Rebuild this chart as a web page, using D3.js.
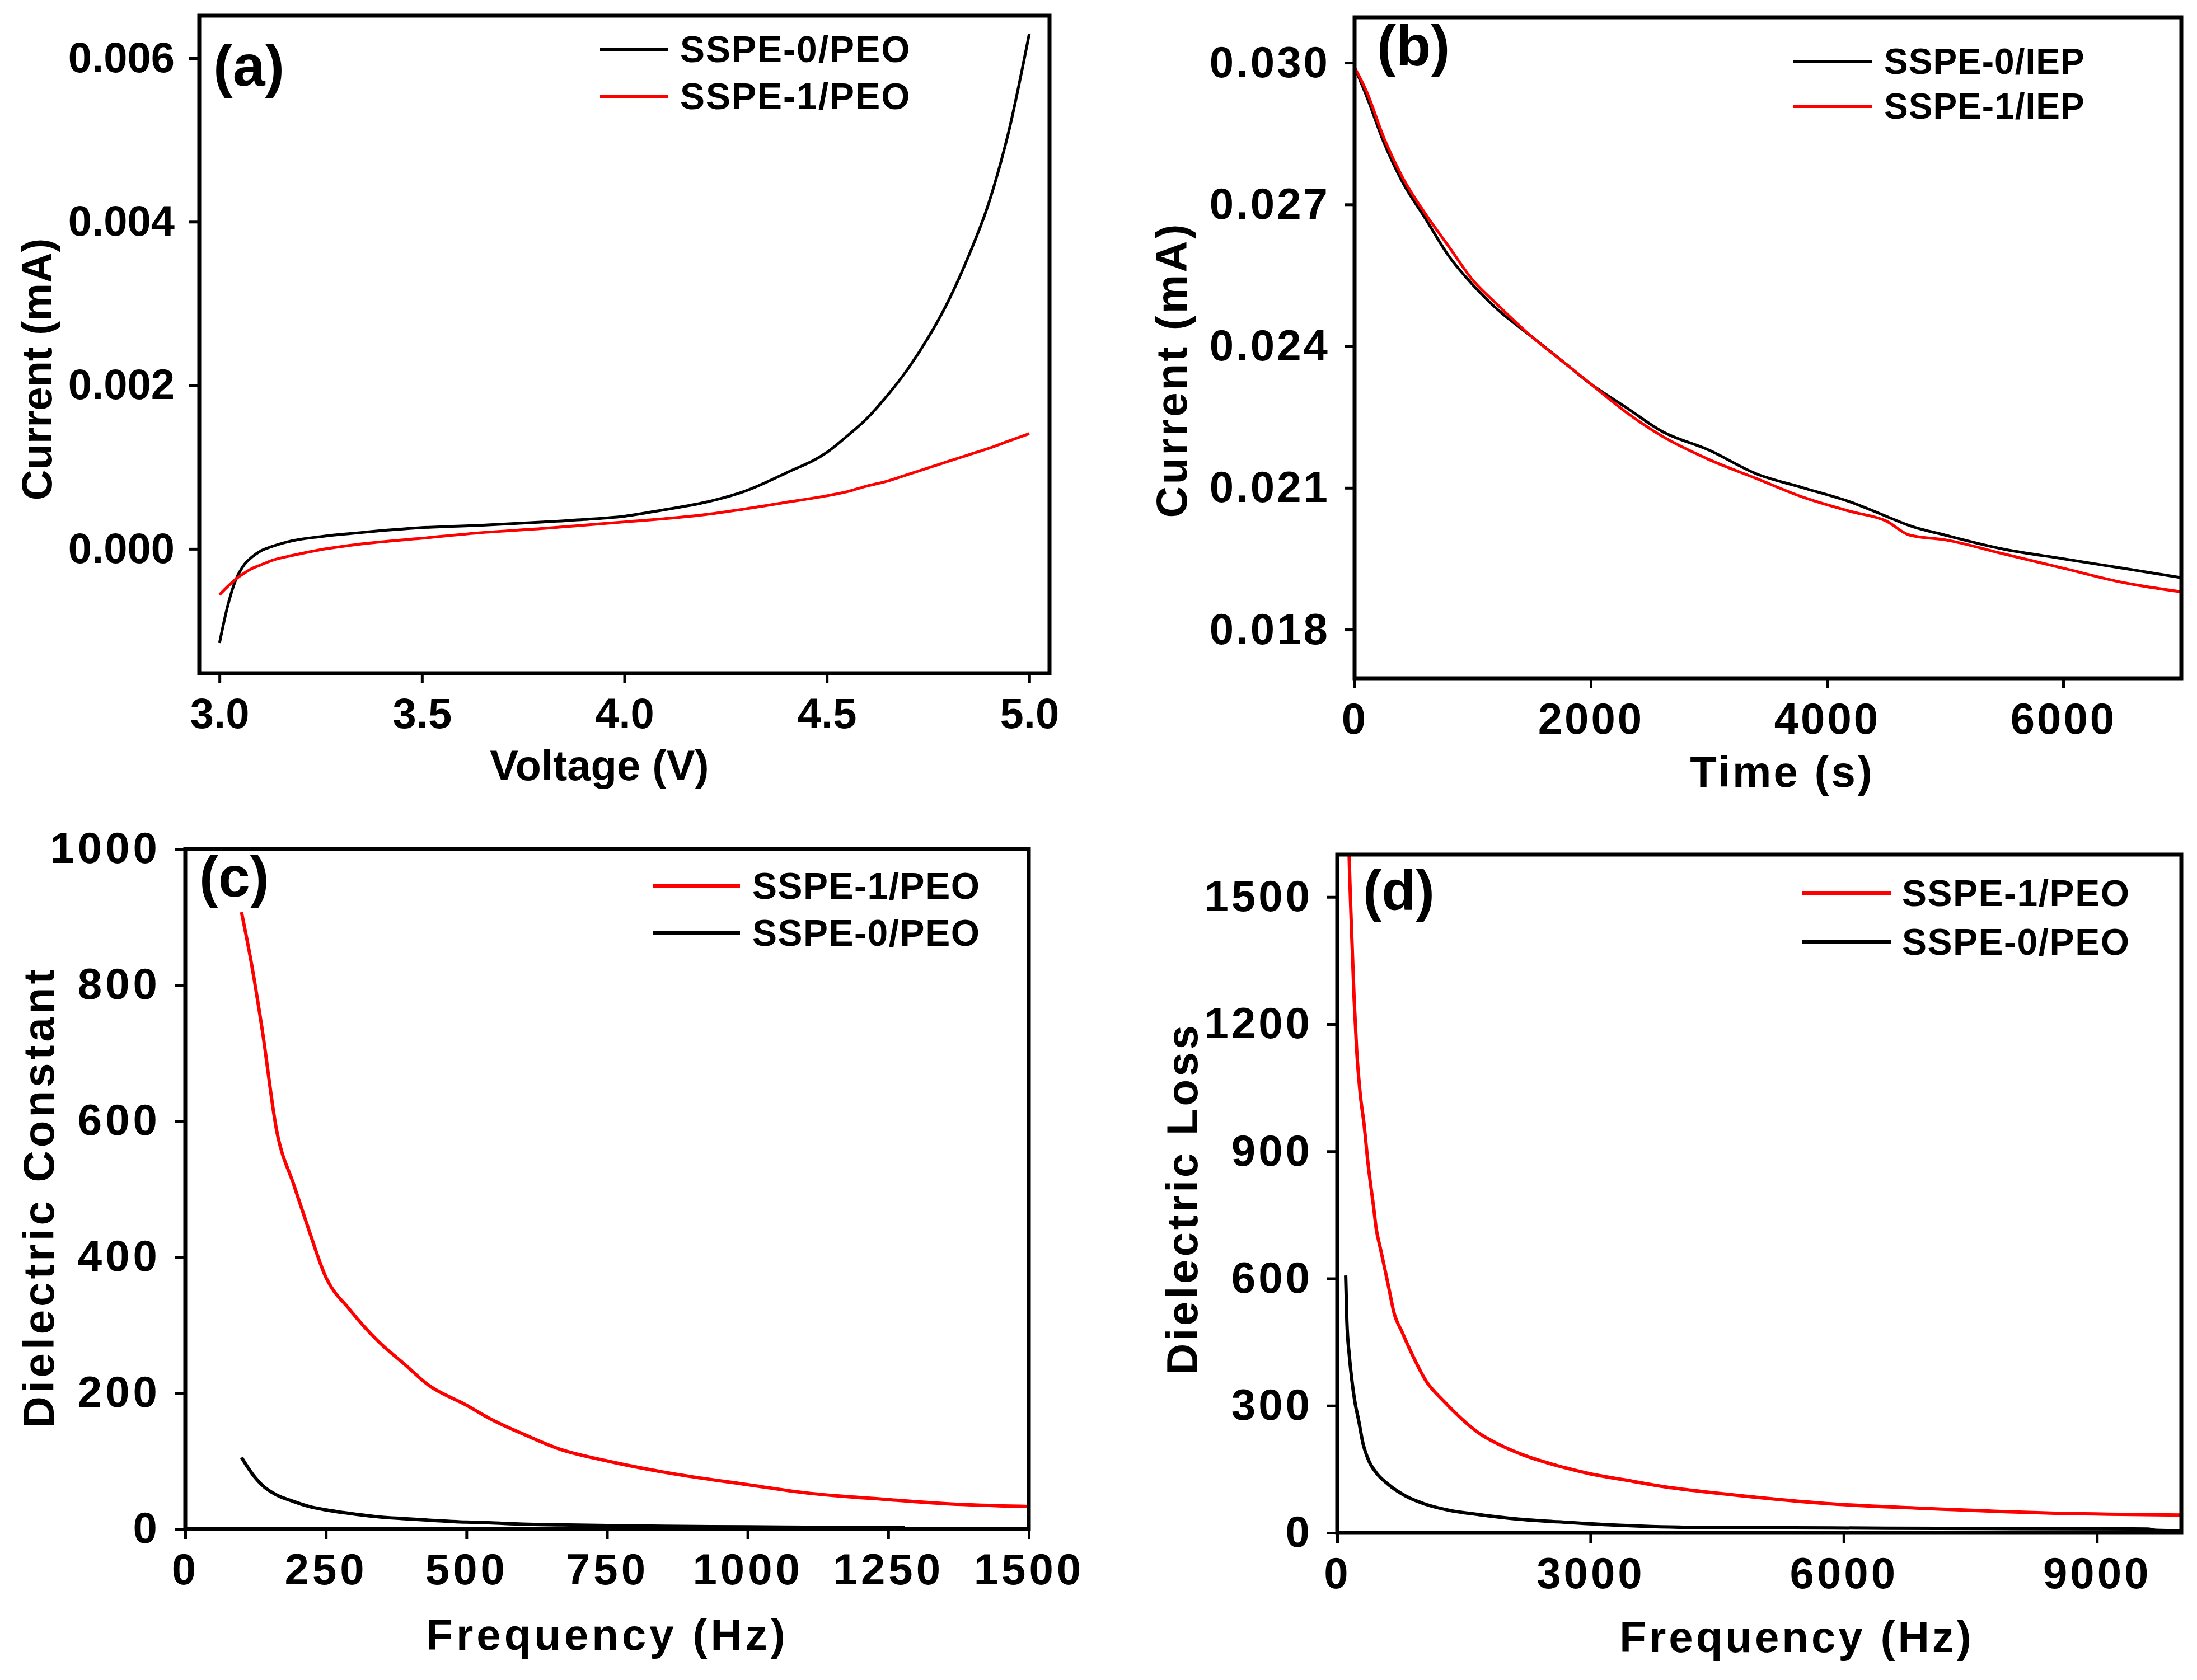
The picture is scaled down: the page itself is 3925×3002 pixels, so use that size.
<!DOCTYPE html>
<html>
<head>
<meta charset="utf-8">
<script src="https://cdn.jsdelivr.net/npm/d3@7"></script>
<style>
  body { margin: 0; background: #fff; }
  svg { display: block; }
  text { font-family: "Liberation Sans", Arial, sans-serif; font-weight: bold; fill: #000; }
</style>
</head>
<body>
<svg id="fig" width="3925" height="3002"></svg>
<script>
// ---- (a) linear sweep, current vs voltage
var voltageA = [3.00, 3.02, 3.04, 3.06, 3.08, 3.10, 3.13, 3.18, 3.25, 3.35, 3.50, 3.65, 3.80, 3.90, 4.00,
                4.10, 4.20, 4.30, 4.40, 4.50, 4.55, 4.60, 4.65, 4.70, 4.75, 4.80, 4.85, 4.90, 4.95, 5.00];
var currentA0 = [-0.00115, -0.0007, -0.00038, -0.0002, -0.0001, -0.00003, 0.00003, 0.0001, 0.00015, 0.0002,
                 0.00026, 0.00029, 0.00033, 0.00036, 0.0004, 0.00048, 0.00057, 0.00071, 0.00093, 0.00118,
                 0.00138, 0.0016, 0.00188, 0.0022, 0.00258, 0.00303, 0.00358, 0.00423, 0.00512, 0.0063];
var currentA1 = [-0.00056, -0.00046, -0.00037, -0.0003, -0.00024, -0.0002, -0.00014, -0.00008, -0.00001, 0.00006,
                 0.00013, 0.0002, 0.00025, 0.00029, 0.00033, 0.00037, 0.00042, 0.00049, 0.00057, 0.00065,
                 0.0007, 0.00077, 0.00083, 0.00091, 0.00099, 0.00107, 0.00115, 0.00123, 0.00132, 0.00141];
var ticksAX = [3.0, 3.5, 4.0, 4.5, 5.0];
var ticksAY = [0, 0.002, 0.004, 0.006];

// ---- (b) chronoamperometry, current vs time
var timeB = [0, 100, 250, 400, 600, 800, 1000, 1200, 1500, 1800, 2000, 2300, 2600, 3000, 3400, 3800,
             4200, 4500, 4700, 5000, 5500, 6000, 6500, 7000];
var currentB0 = [0.0299, 0.0293, 0.0283, 0.0275, 0.0267, 0.0259, 0.0253, 0.0248, 0.0242, 0.0236, 0.0232, 0.0227,
                 0.0222, 0.0218, 0.0213, 0.0210, 0.0207, 0.0204, 0.0202, 0.0200, 0.0197, 0.0195, 0.0193, 0.0191];
var currentB1 = [0.0299, 0.0294, 0.0284, 0.0276, 0.0268, 0.0261, 0.0254, 0.0249, 0.0242, 0.0236, 0.0232, 0.0226,
                 0.0221, 0.0216, 0.0212, 0.0208, 0.0205, 0.0203, 0.0200, 0.0199, 0.0196, 0.0193, 0.0190, 0.0188];
var ticksBX = [0, 2000, 4000, 6000];
var ticksBY = [0.018, 0.021, 0.024, 0.027, 0.030];

// ---- (c) dielectric constant vs frequency
var freqC1 = [100, 118, 137, 162, 193, 218, 249, 293, 343, 393, 430, 500, 542, 605, 667, 750, 854, 1000, 1104, 1251, 1353, 1500];
var constC1 = [907, 830, 733, 588, 506, 444, 372, 322, 276, 240, 213, 182, 162, 138, 117, 100, 83, 65, 53, 43, 37, 33];
var freqC0 = [100, 120, 140, 160, 190, 220, 250, 290, 340, 390, 430, 500, 540, 600, 670, 750, 850, 1000, 1100, 1280];
var constC0 = [105, 80, 62, 51, 41, 33, 28, 23, 18, 15, 13, 10, 9, 7, 6, 5, 4, 3, 2.5, 2];
var ticksCX = [0, 250, 500, 750, 1000, 1250, 1500];
var ticksCY = [0, 200, 400, 600, 800, 1000];

// ---- (d) dielectric loss vs frequency
var freqD1 = [100, 141, 170, 200, 230, 270, 320, 360, 390, 430, 460, 510, 570, 620, 670, 770, 880, 1050, 1260,
              1430, 1680, 1890, 2200, 2580, 3000, 3400, 3900, 4300, 4800, 5800, 6900, 8400, 10000];
var lossD1 = [2050, 1600, 1420, 1260, 1140, 1040, 960, 880, 830, 770, 720, 672, 617, 569, 521, 473, 424, 359, 311,
              277, 235, 211, 184, 160, 139, 125, 108, 98, 87, 69, 58, 47, 42];
var freqD0 = [100, 114, 142, 176, 211, 253, 305, 374, 461, 600, 809, 1052, 1330, 1678, 2164, 2616, 3207, 4145,
              5389, 6500, 8000, 9600, 9700, 10000];
var lossD0 = [607, 500, 421, 356, 307, 266, 211, 170, 142, 115, 87, 67, 53, 43, 32, 26, 19, 13, 12, 11, 10, 9, 6, 5];
var ticksDX = [0, 3000, 6000, 9000];
var ticksDY = [0, 300, 600, 900, 1200, 1500];

var svg = d3.select("#fig");
var RED = "#ff0000";

function panel(o) {
    var x = d3.scaleLinear().domain(o.xDomain).range([o.left, o.right]);
    var y = d3.scaleLinear().domain(o.yDomain).range([o.bottom, o.top]);
    var g = svg.append("g");

    g.append("clipPath").attr("id", "clip-" + o.id)
        .append("rect")
        .attr("x", o.left).attr("y", o.top)
        .attr("width", o.right - o.left).attr("height", o.bottom - o.top);

    var line = d3.line()
        .curve(d3.curveMonotoneX)
        .x(function(d) { return x(d[0]); })
        .y(function(d) { return y(d[1]); });

    o.series.forEach(function(s) {
        g.append("path")
            .datum(d3.zip(s.x, s.y))
            .attr("clip-path", "url(#clip-" + o.id + ")")
            .attr("fill", "none")
            .attr("stroke", s.color)
            .attr("stroke-width", o.lineWidth)
            .attr("stroke-linejoin", "round")
            .attr("d", line);
    });

    // axes
    var ax = g.append("g")
        .attr("transform", "translate(0," + o.bottom + ")")
        .call(d3.axisBottom(x).tickValues(o.ticksX).tickFormat(d3.format(o.fmtX))
            .tickSize(18).tickPadding(26).tickSizeOuter(0));
    var ay = g.append("g")
        .attr("transform", "translate(" + o.left + ",0)")
        .call(d3.axisLeft(y).tickValues(o.ticksY).tickFormat(d3.format(o.fmtY))
            .tickSize(18).tickPadding(26).tickSizeOuter(0));
    [ax, ay].forEach(function(a) {
        a.select(".domain").remove();
        a.selectAll(".tick line").attr("stroke", "#000").attr("stroke-width", 5);
        a.selectAll(".tick text")
            .style("font-size", o.fontSize + "px")
            .style("letter-spacing", o.spacing + "px")
            .attr("fill", "#000");
    });

    // frame
    g.append("rect")
        .attr("x", o.left).attr("y", o.top)
        .attr("width", o.right - o.left).attr("height", o.bottom - o.top)
        .attr("fill", "none").attr("stroke", "#000").attr("stroke-width", 7);

    // titles
    g.append("text")
        .attr("x", o.xTitle[0]).attr("y", o.xTitle[1])
        .attr("text-anchor", "middle")
        .style("font-size", o.fontSize + "px")
        .style("letter-spacing", o.spacing + "px")
        .text(o.xLabel);
    g.append("text")
        .attr("transform", "translate(" + o.yTitle[0] + "," + o.yTitle[1] + ") rotate(-90)")
        .attr("text-anchor", "middle")
        .style("font-size", o.fontSize + "px")
        .style("letter-spacing", o.spacing + "px")
        .text(o.yLabel);

    // panel letter
    g.append("text")
        .attr("x", o.tag[0]).attr("y", o.tag[1])
        .style("font-size", o.tagSize + "px")
        .text(o.tagText);

    // legend
    o.legend.forEach(function(l, i) {
        var ly = o.legendY[i];
        g.append("line")
            .attr("x1", o.legendX[0]).attr("x2", o.legendX[1])
            .attr("y1", ly).attr("y2", ly)
            .attr("stroke", l.color).attr("stroke-width", 6);
        g.append("text")
            .attr("x", o.legendX[2]).attr("y", ly)
            .attr("dominant-baseline", "central")
            .style("font-size", o.legendSize + "px")
            .style("letter-spacing", o.legendSpacing + "px")
            .text(l.name);
    });
}

panel({
    id: "a", left: 356, right: 1875, top: 28, bottom: 1203,
    xDomain: [2.95, 5.05], yDomain: [-0.00152, 0.00652],
    ticksX: ticksAX, ticksY: ticksAY, fmtX: ".1f", fmtY: ".3f",
    fontSize: 76, spacing: 0, lineWidth: 5,
    series: [{x: voltageA, y: currentA0, color: "#000"}, {x: voltageA, y: currentA1, color: RED}],
    xLabel: "Voltage (V)", xTitle: [1071, 1394],
    yLabel: "Current (mA)", yTitle: [92, 660],
    tagText: "(a)", tag: [381, 153], tagSize: 104,
    legend: [{name: "SSPE-0/PEO", color: "#000"}, {name: "SSPE-1/PEO", color: RED}],
    legendX: [1072, 1194, 1215], legendY: [88, 172], legendSize: 66, legendSpacing: 2
});

panel({
    id: "b", left: 2420, right: 3897, top: 31, bottom: 1212,
    xDomain: [0, 7000], yDomain: [0.01697, 0.03096],
    ticksX: ticksBX, ticksY: ticksBY, fmtX: "d", fmtY: ".3f",
    fontSize: 78, spacing: 4, lineWidth: 5,
    series: [{x: timeB, y: currentB0, color: "#000"}, {x: timeB, y: currentB1, color: RED}],
    xLabel: "Time (s)", xTitle: [3184, 1406],
    yLabel: "Current (mA)", yTitle: [2120, 661],
    tagText: "(b)", tag: [2460, 117], tagSize: 102,
    legend: [{name: "SSPE-0/IEP", color: "#000"}, {name: "SSPE-1/IEP", color: RED}],
    legendX: [3204, 3345, 3366], legendY: [110, 190], legendSize: 64, legendSpacing: 1
});

panel({
    id: "c", left: 331, right: 1838, top: 1517, bottom: 2732,
    xDomain: [0, 1500], yDomain: [0, 1000],
    ticksX: ticksCX, ticksY: ticksCY, fmtX: "d", fmtY: "d",
    fontSize: 78, spacing: 6, lineWidth: 6,
    series: [{x: freqC1, y: constC1, color: RED}, {x: freqC0, y: constC0, color: "#000"}],
    xLabel: "Frequency (Hz)", xTitle: [1085, 2948],
    yLabel: "Dielectric Constant", yTitle: [96, 2139],
    tagText: "(c)", tag: [356, 1602], tagSize: 102,
    legend: [{name: "SSPE-1/PEO", color: RED}, {name: "SSPE-0/PEO", color: "#000"}],
    legendX: [1166, 1322, 1344], legendY: [1583, 1667], legendSize: 66, legendSpacing: 1.5
});

panel({
    id: "d", left: 2389, right: 3897, top: 1527, bottom: 2739,
    xDomain: [0, 10000], yDomain: [0, 1600],
    ticksX: ticksDX, ticksY: ticksDY, fmtX: "d", fmtY: "d",
    fontSize: 78, spacing: 5, lineWidth: 6,
    series: [{x: freqD1, y: lossD1, color: RED}, {x: freqD0, y: lossD0, color: "#000"}],
    xLabel: "Frequency (Hz)", xTitle: [3210, 2952],
    yLabel: "Dielectric Loss", yTitle: [2139, 2142],
    tagText: "(d)", tag: [2435, 1626], tagSize: 100,
    legend: [{name: "SSPE-1/PEO", color: RED}, {name: "SSPE-0/PEO", color: "#000"}],
    legendX: [3220, 3379, 3398], legendY: [1596, 1683], legendSize: 66, legendSpacing: 1.5
});
</script>
</body>
</html>
